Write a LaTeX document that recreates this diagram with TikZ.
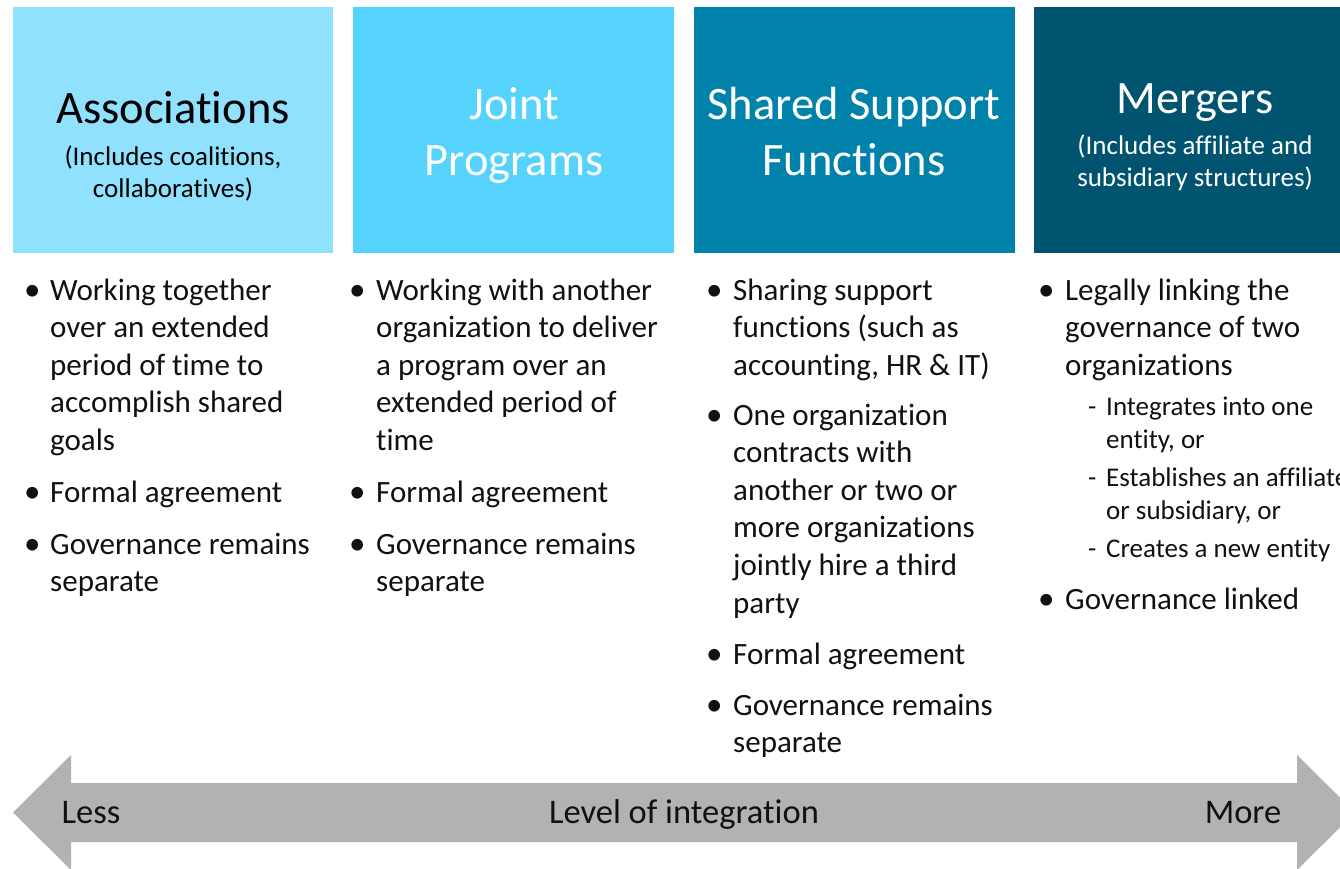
\documentclass[tikz,border=0pt]{standalone}
\usepackage{fontspec}
\setmainfont{Carlito}[Ligatures=NoCommon]
\definecolor{cA}{HTML}{8FE1FD}
\definecolor{cB}{HTML}{55D3FD}
\definecolor{cC}{HTML}{0082AB}
\definecolor{cD}{HTML}{01546F}
\definecolor{arr}{HTML}{B2B2B2}
\definecolor{ink}{HTML}{111111}
\begin{document}
\begin{tikzpicture}[x=1pt,y=-1pt,
  box/.style={draw=none, inner sep=0, outer sep=0, anchor=north west, minimum height=246pt},
  title/.style={font=\fontsize{46.5}{56}\selectfont, align=center, anchor=base, inner sep=0},
  subt/.style={font=\fontsize{27}{32}\selectfont, align=center, anchor=base, inner sep=0},
  itm/.style={font=\fontsize{31}{37.6}\selectfont, align=left, anchor=base west, inner sep=0, text=ink},
  subitm/.style={font=\fontsize{27}{33}\selectfont, align=left, anchor=base west, inner sep=0, text=ink},
  bul/.style={font=\fontsize{33}{37.6}\selectfont, anchor=base west, inner sep=0, text=ink},
  dsh/.style={font=\fontsize{27}{33}\selectfont, anchor=base west, inner sep=0, text=ink},
  lbl/.style={font=\fontsize{34.5}{40}\selectfont, anchor=base, inner sep=0, text=ink}]
\useasboundingbox (0,0) rectangle (1340,868);
\fill[white] (0,0) rectangle (1340,868);
% header boxes
\node[box, fill=cA, minimum width=320pt] (bA) at (13,7) {};
\node[box, fill=cB, minimum width=321pt] (bB) at (353,7) {};
\node[box, fill=cC, minimum width=321pt] (bC) at (694,7) {};
\node[box, fill=cD, minimum width=321pt] (bD) at (1034,7) {};
% titles (base anchor = last line's baseline)
\node[title, text=black] (tA) at (173,123) {Associations};
\node[subt, text=black] (sA) at (173,197) {(Includes coalitions,\\collaboratives)};
\node[title, text=white] (tB) at (514,175) {Joint\\Programs};
\node[title, text=white] (tC) at (854,175) {Shared Support\\Functions};
\node[title, text=white] (tD) at (1195,113) {Mergers};
\node[subt, text=white] (sD) at (1195,186) {(Includes affiliate and\\subsidiary structures)};
% column 1
\node[bul] (a1b) at (24,300) {•};
\node[itm] (a1) at (50,450.4) {Working together\\over an extended\\period of time to\\accomplish shared\\goals};
\node[bul] (a2b) at (24,502) {•};
\node[itm] (a2) at (50,502) {Formal agreement};
\node[bul] (a3b) at (24,554) {•};
\node[itm] (a3) at (50,591.6) {Governance remains\\separate};
% column 2
\node[bul] (b1b) at (349,300) {•};
\node[itm] (b1) at (376,450.4) {Working with another\\organization to deliver\\a program over an\\extended period of\\time};
\node[bul] (b2b) at (349,502) {•};
\node[itm] (b2) at (376,502) {Formal agreement};
\node[bul] (b3b) at (349,554) {•};
\node[itm] (b3) at (376,591.6) {Governance remains\\separate};
% column 3
\node[bul] (c1b) at (706,300) {•};
\node[itm] (c1) at (733,375.2) {Sharing support\\functions (such as\\accounting, HR \& IT)};
\node[bul] (c2b) at (706,425) {•};
\node[itm] (c2) at (733,613) {One organization\\contracts with\\another or two or\\more organizations\\jointly hire a third\\party};
\node[bul] (c3b) at (706,664) {•};
\node[itm] (c3) at (733,664) {Formal agreement};
\node[bul] (c4b) at (706,715) {•};
\node[itm] (c4) at (733,752.6) {Governance remains\\separate};
% column 4
\node[bul] (d1b) at (1038,300) {•};
\node[itm] (d1) at (1065,375.2) {Legally linking the\\governance of two\\organizations};
\node[dsh] (d2d) at (1088,415) {-};
\node[subitm] (d2) at (1106,448) {Integrates into one\\entity, or};
\node[dsh] (d3d) at (1088,486) {-};
\node[subitm] (d3) at (1106,519) {Establishes an affiliate\\or subsidiary, or};
\node[dsh] (d4d) at (1088,557) {-};
\node[subitm] (d4) at (1106,557) {Creates a new entity};
\node[bul] (d5b) at (1038,609) {•};
\node[itm] (d5) at (1065,609) {Governance linked};
% integration arrow
\fill[arr] (13,812.5) -- (71,755) -- (71,783) -- (1297,783) -- (1297,755)
  -- (1355,812.5) -- (1297,870) -- (1297,842) -- (71,842) -- (71,870) -- cycle;
\node[lbl] (less) at (91,823) {Less};
\node[lbl] (lev) at (684,823) {Level of integration};
\node[lbl] (more) at (1243,823) {More};
\end{tikzpicture}
\end{document}
